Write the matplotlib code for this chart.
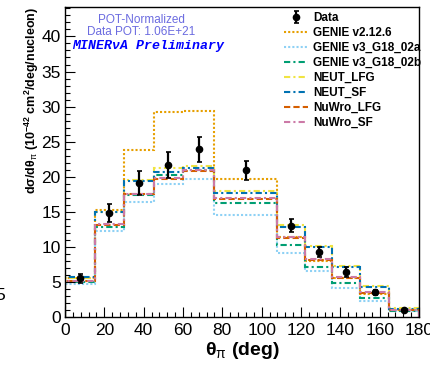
import matplotlib
matplotlib.use("Agg")
import matplotlib.pyplot as plt
import numpy as np

plt.rcParams['font.family'] = ['Liberation Sans', 'DejaVu Sans']
plt.rcParams['mathtext.fontset'] = 'custom'
plt.rcParams['mathtext.rm'] = 'Liberation Sans'
plt.rcParams['mathtext.it'] = 'Liberation Sans:italic'
plt.rcParams['mathtext.bf'] = 'Liberation Sans:bold'

# bin edges in theta_pi (deg)
edges = [0, 15, 30, 45, 60, 76, 108, 122, 136, 150, 165, 180]

# data points
data_y = [5.5, 14.8, 19.1, 21.65, 23.9, 20.9, 13.0, 9.3, 6.45, 3.5, 1.0]
data_err = [0.7, 1.3, 1.7, 1.9, 1.8, 1.4, 0.95, 0.7, 0.7, 0.3, 0.2]

# generator predictions
genie_v2 = [5.5, 15.3, 23.8, 29.3, 29.4, 19.7, 11.4, 8.0, 5.5, 3.3, 1.0]
genie_v3a = [4.7, 12.2, 16.4, 18.9, 19.7, 14.6, 9.1, 6.6, 4.2, 2.3, 0.8]
genie_v3b = [5.0, 12.8, 17.4, 20.2, 21.0, 16.2, 10.3, 7.2, 4.8, 2.7, 0.9]
neut_lfg = [5.6, 15.0, 19.6, 21.2, 21.5, 17.9, 13.1, 10.1, 7.3, 4.4, 1.3]
neut_sf = [5.7, 14.9, 19.4, 20.7, 21.2, 17.7, 12.9, 10.0, 7.2, 4.3, 1.2]
nuwro_lfg = [5.1, 13.1, 17.5, 19.7, 20.8, 16.8, 11.3, 8.1, 5.6, 3.4, 1.0]
nuwro_sf = [5.2, 13.2, 17.6, 19.8, 20.9, 16.9, 11.4, 8.2, 5.7, 3.5, 1.0]

models = [
    ("GENIE v2.12.6", genie_v2, "#E69F00", (0, (1, 1))),
    ("GENIE v3_G18_02a", genie_v3a, "#8ED1F5", (0, (1, 1))),
    ("GENIE v3_G18_02b", genie_v3b, "#009E73", (0, (3, 1.5, 1, 1.5))),
    ("NEUT_LFG", neut_lfg, "#F0E442", (0, (3, 1.5, 1, 1.5))),
    ("NEUT_SF", neut_sf, "#0072B2", (0, (3, 1.5, 1, 1.5))),
    ("NuWro_LFG", nuwro_lfg, "#D55E00", (0, (3, 1.5))),
    ("NuWro_SF", nuwro_sf, "#CC79A7", (0, (3, 1.5, 1, 1.5))),
]

fig = plt.figure(figsize=(4.31, 3.68), dpi=100)
ax = fig.add_axes([65/431, 1-317/368, (419-65)/431, (317-7)/368])

centers = [(edges[i] + edges[i+1]) / 2 for i in range(len(edges)-1)]

handles = []
for name, vals, col, ls in models:
    ax.stairs(vals, edges, baseline=0, color=col, lw=1.5, linestyle=ls)
    handles.append(plt.Line2D([], [], color=col, lw=1.5, linestyle=ls, label=name))

eb = ax.errorbar(centers, data_y, yerr=data_err, fmt='o', color='black', ms=4.5,
                 elinewidth=1.6, capsize=1.8, capthick=1.2, label='Data', zorder=10)

ax.set_xlim(0, 180)
ax.set_ylim(0, 44.2)
ax.set_xticks(np.arange(0, 181, 20))
ax.set_xticks(np.arange(0, 181, 4), minor=True)
ax.set_yticks(np.arange(0, 41, 5))
ax.set_yticks(np.arange(0, 45, 1), minor=True)
ax.tick_params(which='both', direction='in', top=False, right=False, labelsize=12.5, width=0.8)
ax.tick_params(which='major', length=7)
ax.tick_params(which='minor', length=3.5)
ax.tick_params(axis='y', pad=3)
ax.tick_params(axis='x', pad=4)
for s in ax.spines.values():
    s.set_linewidth(1)

ax.set_xlabel("θ$_{\\mathrm{π}}$ (deg)", fontsize=14, fontweight='bold', labelpad=2)
ax.set_ylabel("dσ/dθ$_{\\mathrm{π}}$ (10$^{\\mathbf{-42}}$ cm$^{\\mathbf{2}}$/deg/nucleon)",
              fontsize=9, fontweight='bold', loc='top', labelpad=0)

leg = ax.legend([eb] + handles, ['Data'] + [m[0] for m in models],
                loc='upper left', bbox_to_anchor=(284/431, 1-12/368),
                bbox_transform=fig.transFigure, frameon=False, borderpad=0,
                borderaxespad=0, handlelength=2.0, handletextpad=0.45,
                labelspacing=0.25, prop={'weight': 'bold', 'size': 8.5})

fig.text(141/431, 1-20/368, "POT-Normalized", color="#6B6BE0", fontsize=8.5,
         ha='center', va='center')
fig.text(141/431, 1-32/368, "Data POT: 1.06E+21", color="#6B6BE0", fontsize=8.5,
         ha='center', va='center')
fig.text(72/431, 1-46/368, "MINERνA Preliminary", color="#0000FF", fontsize=9.5,
         family=['Liberation Mono', 'DejaVu Sans Mono'], fontweight='bold',
         style='italic', ha='left', va='center')
fig.text(0.0, 1-295/368, "5", fontsize=12.5, ha='center', va='center')

fig.savefig("out.png", dpi=100)
